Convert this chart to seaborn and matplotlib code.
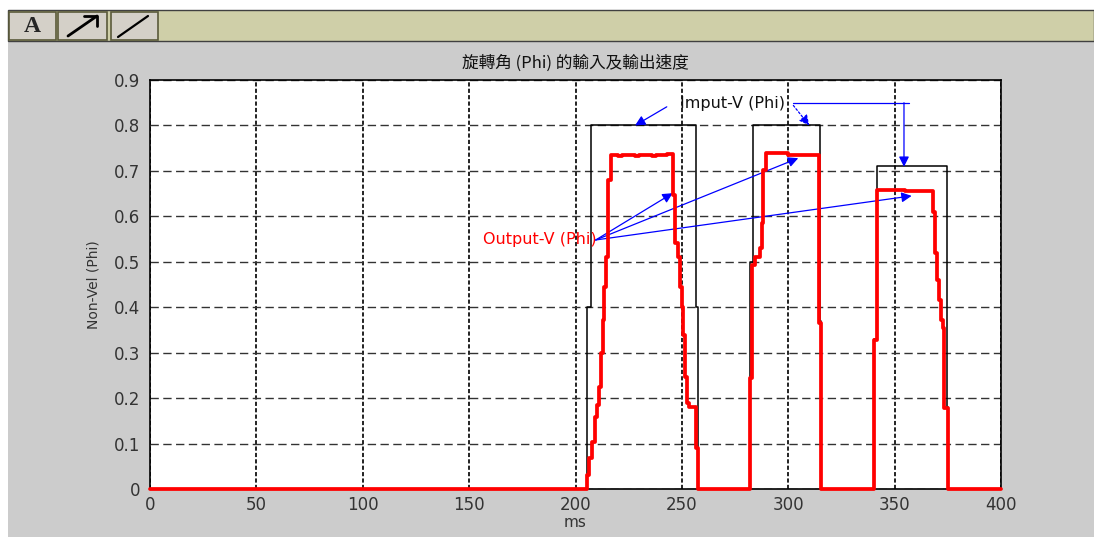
import matplotlib
matplotlib.use("Agg")
import matplotlib.pyplot as plt
from matplotlib.patches import Rectangle
from matplotlib.lines import Line2D
import seaborn as sns

# ---------------- data ----------------
t_in = [0, 205.6, 207.2, 256.6, 257.7, 282.0, 283.5, 315.0, 315.4, 340.5, 341.5, 374.4, 375.0, 400]
v_in = [0, 0.40, 0.80, 0.40, 0.00, 0.50, 0.80, 0.37, 0.00, 0.33, 0.71, 0.18, 0.00, 0.00]

t_out = [0, 205.2, 206.3, 207.6, 209.2, 210.3, 211.2, 212.0, 213.1, 213.6, 214.3, 215.1, 216.5,
         220.0, 222.0, 228.0, 230.0, 236.0, 238.0, 243.0,
         246.0, 246.8, 248.3, 249.1, 249.9, 250.7, 251.5, 252.2, 253.5, 256.6, 257.4,
         282.0, 283.1, 284.4, 286.7, 287.5, 288.3, 289.4, 300.0, 314.5, 315.4,
         340.5, 341.6, 355.0, 367.9, 369.0, 369.8, 370.9, 371.8, 372.6, 373.4, 375.2, 400]
v_out = [0, 0.030, 0.068, 0.104, 0.159, 0.185, 0.225, 0.299, 0.372, 0.445, 0.511, 0.680, 0.735,
         0.732, 0.736, 0.732, 0.736, 0.732, 0.736, 0.738,
         0.647, 0.541, 0.511, 0.445, 0.401, 0.339, 0.247, 0.189, 0.181, 0.090, 0.000,
         0.244, 0.493, 0.511, 0.530, 0.585, 0.702, 0.739, 0.736, 0.365, 0.000,
         0.328, 0.658, 0.655, 0.610, 0.519, 0.460, 0.416, 0.372, 0.354, 0.178, 0.000, 0.000]

x_ticks = [0, 50, 100, 150, 200, 250, 300, 350, 400]
y_ticks = [0, 0.1, 0.2, 0.3, 0.4, 0.5, 0.6, 0.7, 0.8, 0.9]
x_ticklabels = ["0", "50", "100", "150", "200", "250", "300", "350", "400"]
y_ticklabels = ["0", "0.1", "0.2", "0.3", "0.4", "0.5", "0.6", "0.7", "0.8", "0.9"]

title = "旋轉角 (Phi) 的輸入及輸出速度"
x_label = "ms"
y_label = "Non-Vel (Phi)"
input_label = "Imput-V (Phi)"
output_label = "Output-V (Phi)"

# ---------------- style ----------------
sns.set_style("white")
plt.rcParams["font.family"] = ["DejaVu Sans", "Noto Sans CJK TC"]
plt.rcParams["lines.scale_dashes"] = False

W, H = 1094, 537
fig = plt.figure(figsize=(W / 100, H / 100), dpi=100, facecolor="white")

def fx(px):
    return px / W

def fy(py):
    return 1 - py / H

# gray panel
fig.patches.append(Rectangle((fx(8), 0), fx(W) - fx(8), fy(40), transform=fig.transFigure,
                             facecolor="#cccccc", edgecolor="none", zorder=0))
# toolbar
fig.patches.append(Rectangle((fx(8), fy(41)), 1 - fx(8), fy(10) - fy(41), transform=fig.transFigure,
                             facecolor="#cfcfa8", edgecolor="#404040", lw=1.0, zorder=1))
btns = [(8, 56), (57, 107), (110, 158)]
for (a, b) in btns:
    fig.patches.append(Rectangle((fx(a + 1), fy(40)), fx(b) - fx(a + 1), fy(12) - fy(40),
                                 transform=fig.transFigure, facecolor="#d4d0c8",
                                 edgecolor="#5a5a3a", lw=1.2, zorder=2))
fig.text(fx(32), fy(26), "A", ha="center", va="center", fontsize=17, fontweight="bold",
         family="Liberation Serif", zorder=3)
fig.add_artist(Line2D([fx(68), fx(97)], [fy(36), fy(16)], transform=fig.transFigure,
                      color="black", lw=2.0, zorder=3))
fig.add_artist(Line2D([fx(84), fx(97), fx(97)], [fy(16), fy(16), fy(26)], transform=fig.transFigure,
                      color="black", lw=2.0, zorder=3))
fig.add_artist(Line2D([fx(118), fx(148)], [fy(37), fy(16)], transform=fig.transFigure,
                      color="black", lw=1.6, zorder=3))

ax = fig.add_axes([fx(150), fy(489), fx(1001) - fx(150), fy(80) - fy(489)])
ax.set_facecolor("white")
ax.set_zorder(5)

sns.lineplot(x=t_in, y=v_in, ax=ax, color="black", lw=1.1, drawstyle="steps-post",
             estimator=None, sort=False)
sns.lineplot(x=t_out, y=v_out, ax=ax, color="#ff0000", lw=2.7, drawstyle="steps-post",
             estimator=None, sort=False, zorder=4, clip_on=False)

ax.set_xlim(0, 400)
ax.set_ylim(0, 0.9)
ax.set_xticks(x_ticks)
ax.set_xticklabels(x_ticklabels)
ax.set_yticks(y_ticks)
ax.set_yticklabels(y_ticklabels)

ax.set_axisbelow(True)
ax.xaxis.grid(True, color="#111111", lw=1.3, linestyle=(0, (3.0, 1.6)))
ax.yaxis.grid(True, color="#333333", lw=1.0, linestyle=(0, (6.0, 3.2)))

for s in ax.spines.values():
    s.set_color("black")
    s.set_linewidth(1.2)

ax.tick_params(axis="both", direction="in", length=4, width=1, colors="#222222",
               labelsize=12, labelcolor="#333333")
ax.tick_params(axis="x", pad=5)
ax.tick_params(axis="y", pad=7)

ax.set_title(title, fontsize=12, pad=9, color="#111111",
             family=["Noto Sans CJK TC", "DejaVu Sans"])
ax.set_xlabel(x_label, fontsize=11, labelpad=1, color="#333333")
ax.set_ylabel(y_label, fontsize=10, labelpad=10, color="#333333")

# annotations
blue = "#0000ff"
ap = dict(arrowstyle="-|>", color=blue, lw=0.9, mutation_scale=15, shrinkA=0, shrinkB=0)
ax.text(273.6, 0.849, input_label, ha="center", va="center", fontsize=11.5, color="#111111")
ax.annotate("", xy=(228.0, 0.800), xytext=(242.9, 0.841), arrowprops=ap)
ap_dot = dict(ap, linestyle=(0, (1.5, 1.5)))
ax.annotate("", xy=(309.9, 0.800), xytext=(302.4, 0.844), arrowprops=ap_dot)
ax.plot([302.4, 356.9], [0.850, 0.850], color=blue, lw=0.9)
ax.annotate("", xy=(354.4, 0.709), xytext=(354.4, 0.850), arrowprops=ap)

ax.text(209.8, 0.5495, output_label, ha="right", va="center", fontsize=11.5, color="#ff0000")
for (tx, ty) in [(245.7, 0.651), (304.7, 0.728), (358.0, 0.645)]:
    ax.annotate("", xy=(tx, ty), xytext=(209.5, 0.548), arrowprops=ap)

fig.savefig("out.png", dpi=100, facecolor="white")
